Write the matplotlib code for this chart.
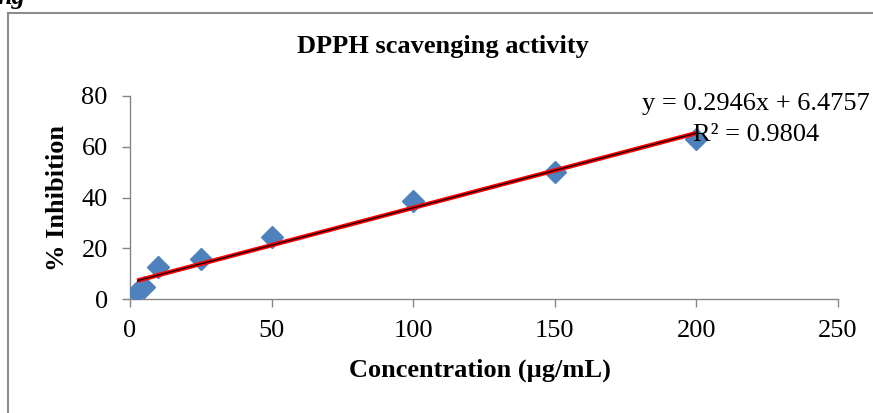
import matplotlib.pyplot as plt
from matplotlib.patches import Rectangle

# data
conc = [2.5, 5, 10, 25, 50, 100, 150, 200]
inhibition = [2.8, 4.6, 12.5, 15.6, 24.6, 38.8, 50.2, 63.0]
slope = 0.2946
intercept = 6.4757
r2 = 0.9804

plt.rcParams['font.family'] = ['Liberation Serif', 'DejaVu Serif']

fig = plt.figure(figsize=(8.73, 4.13), dpi=100)
ax = fig.add_axes([130/873, 1 - 299/413, 708/873, 203/413])

# outer chart border (cut off on right/bottom)
fig.patches.append(Rectangle((8/873, -0.2), 1.2, 1.2 - 13/413, transform=fig.transFigure,
                             fill=False, edgecolor='#8c8c8c', linewidth=1.5))
fig.text(-0.003, 1 - 4/413, 'ng', fontsize=19, fontweight='bold', fontstyle='italic',
         va='baseline', ha='left')

ax.plot(conc, inhibition, linestyle='none', marker='D', markersize=11,
        color='#4f81bd', zorder=3)

xs = [min(conc), max(conc)]
ys = [slope * x + intercept for x in xs]
ax.plot(xs, ys, color='#ff0000', linewidth=3.2, zorder=4, solid_capstyle='butt')
ax.plot(xs, ys, color='#200000', linewidth=1.0, zorder=5, solid_capstyle='butt')

ax.set_xlim(0, 250)
ax.set_ylim(0, 80)
ax.set_xticks(range(0, 251, 50))
ax.set_yticks(range(0, 81, 20))
for s in ['top', 'right']:
    ax.spines[s].set_visible(False)
for s in ['left', 'bottom']:
    ax.spines[s].set_color('#868686')
    ax.spines[s].set_linewidth(1.0)
ax.tick_params(axis='both', colors='#868686', labelcolor='black', labelsize=19,
               length=6, width=1.0, direction='out')
ax.tick_params(axis='x', pad=9)
ax.tick_params(axis='y', pad=10)

fig.text(443/873, 1 - 47/413, 'DPPH scavenging activity', fontsize=19,
         fontweight='bold', ha='center', va='center')
ax.set_xlabel('Concentration (µg/mL)', fontsize=19, fontweight='bold')
ax.set_ylabel('% Inhibition', fontsize=19, fontweight='bold')
ax.xaxis.set_label_coords(0.494, -0.35)
ax.xaxis.label.set_va('center')
ax.yaxis.set_label_coords(-0.103, 0.4975)
ax.yaxis.label.set_va('center')

fig.text(642/873, 1 - 104/413, f'y = {slope}x + {intercept}', fontsize=19,
         ha='left', va='center')
fig.text(693/873, 1 - 135/413, f'R² = {r2}', fontsize=19, ha='left', va='center')

fig.savefig('out.png', dpi=100)
